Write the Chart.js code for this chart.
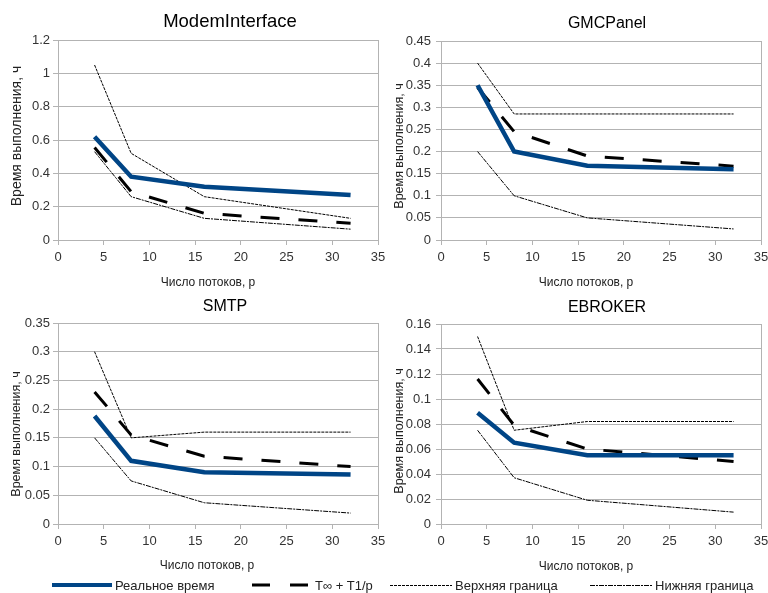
<!DOCTYPE html>
<html>
<head>
<meta charset="utf-8">
<script src="https://cdn.jsdelivr.net/npm/chart.js@4.4.1/dist/chart.umd.min.js"></script>
<style>
    html, body {margin: 0; padding: 0; background: #fff; overflow: hidden;}
    body {width: 768px; height: 593px; position: relative; font-family: "Liberation Sans", Arial, sans-serif;}
    canvas {position: absolute;}
    .lg {position: absolute; top: 577px; height: 16px; display: flex; align-items: center; font-size: 13px; color: #222; white-space: nowrap;}
    .lg svg {margin-right: 3px;}
</style>
</head>
<body>
<canvas id="c1" width="460" height="300" style="left:0;top:0"></canvas>
<canvas id="c2" width="446" height="300" style="left:384px;top:0"></canvas>
<canvas id="c3" width="450" height="286" style="left:0;top:290px"></canvas>
<canvas id="c4" width="446" height="286" style="left:384px;top:290px"></canvas>

<div class="lg" style="left:52px"><svg width="60" height="6"><line x1="0" y1="3" x2="60" y2="3" stroke="#004586" stroke-width="4"/></svg><span>Реальное время</span></div>
<div class="lg" style="left:252px"><svg width="60" height="6"><line x1="0" y1="3" x2="60" y2="3" stroke="#000" stroke-width="3" stroke-dasharray="18 20"/></svg><span>T∞ + T1/p</span></div>
<div class="lg" style="left:390px"><svg width="62" height="6"><line x1="0" y1="3.5" x2="62" y2="3.5" stroke="#000" stroke-width="1" stroke-dasharray="3 1"/></svg><span>Верхняя граница</span></div>
<div class="lg" style="left:590px"><svg width="62" height="6"><line x1="0" y1="3.5" x2="62" y2="3.5" stroke="#000" stroke-width="1" stroke-dasharray="5 1 2 1"/></svg><span>Нижняя граница</span></div>

<script>
// ---- data ----
const threads = [4, 8, 16, 32];
const seriesNames = ['Реальное время', 'T∞ + T1/p', 'Верхняя граница', 'Нижняя граница'];
const xMax = 35, xStep = 5;

const modemReal = [0.62, 0.38, 0.32, 0.27];
const modemModel = [0.555, 0.29, 0.16, 0.10];
const modemUpper = [1.05, 0.52, 0.26, 0.13];
const modemLower = [0.53, 0.26, 0.13, 0.065];

const gmcReal = [0.35, 0.20, 0.168, 0.16];
const gmcModel = [0.345, 0.245, 0.19, 0.167];
const gmcUpper = [0.40, 0.285, 0.285, 0.285];
const gmcLower = [0.20, 0.10, 0.05, 0.025];

const smtpReal = [0.188, 0.11, 0.09, 0.086];
const smtpModel = [0.23, 0.155, 0.118, 0.10];
const smtpUpper = [0.30, 0.15, 0.16, 0.16];
const smtpLower = [0.15, 0.075, 0.037, 0.019];

const ebrokerReal = [0.089, 0.065, 0.055, 0.055];
const ebrokerModel = [0.116, 0.079, 0.06, 0.05];
const ebrokerUpper = [0.15, 0.075, 0.082, 0.082];
const ebrokerLower = [0.075, 0.037, 0.019, 0.0095];

// ---- styling ----
const FONT = '"Liberation Sans", Arial, sans-serif';
Chart.defaults.font.family = FONT;
Chart.defaults.color = '#333';
const GRID = '#b3b3b3';

const lineStyles = [
    {borderColor: '#004586', borderWidth: 4.5, borderDash: []},
    {borderColor: '#000', borderWidth: 3, borderDash: [19, 19]},
    {borderColor: '#000', borderWidth: 1, borderDash: [3, 1]},
    {borderColor: '#000', borderWidth: 1, borderDash: [5, 1, 2, 1]},
];

// axis captions, placed like the office chart does (not centred on the plot)
const captions = {
    id: 'captions',
    afterDraw(chart, args, o) {
        const {ctx, chartArea: a} = chart;
        ctx.save();
        ctx.fillStyle = '#222';
        ctx.textAlign = 'center';
        ctx.textBaseline = 'middle';
        ctx.font = '12px ' + FONT;
        ctx.fillText('Число потоков, p', (a.left + a.right) / 2 + o.xdx, o.xy);
        ctx.font = o.ySize + 'px ' + FONT;
        ctx.translate(o.yx, o.yy);
        ctx.rotate(-Math.PI / 2);
        ctx.fillText('Время выполнения, ч', 0, 0);
        ctx.restore();
    }
};

const pts = vals => vals.map((v, i) => ({x: threads[i], y: v}));

function makeChart(id, o) {
    const series = [o.real, o.model, o.upper, o.lower];
    new Chart(document.getElementById(id), {
        type: 'scatter',
        plugins: [captions],
        data: {
            datasets: series.map((s, i) => ({
                label: seriesNames[i],
                data: pts(s),
                showLine: true,
                pointRadius: 0,
                fill: false,
                tension: 0,
                ...lineStyles[i],
            }))
        },
        options: {
            responsive: false,
            animation: false,
            events: [],
            layout: {padding: 0},
            plugins: {
                legend: {display: false},
                tooltip: {enabled: false},
                title: {
                    display: true, text: o.title, color: '#000',
                    font: {size: o.titleSize, weight: 'normal'},
                    padding: {top: o.titleTop, bottom: o.titleBottom}
                },
                captions: o.cap
            },
            scales: {
                x: {
                    type: 'linear', min: 0, max: xMax,
                    ticks: {stepSize: xStep, padding: 5, maxRotation: 0, font: {size: 13}},
                    grid: {drawOnChartArea: false, color: GRID, tickLength: 5},
                    border: {color: GRID},
                    afterFit: s => { s.height = o.xHeight; }
                },
                y: {
                    type: 'linear', min: 0, max: o.yMax,
                    ticks: {stepSize: o.yStep, padding: o.yTickPad, font: {size: 13}, callback: v => String(+v.toFixed(3))},
                    grid: {color: GRID, tickLength: 5},
                    border: {color: GRID},
                    afterFit: s => { s.width = o.yWidth; }
                },
                pad: {
                    type: 'linear', position: 'right', display: true,
                    grid: {display: false},
                    ticks: {display: false},
                    border: {color: GRID},
                    afterFit: s => { s.width = o.padWidth; }
                }
            }
        }
    });
}

makeChart('c1', {
    title: 'ModemInterface', titleSize: 18.5, titleTop: 11, titleBottom: 6.8,
    real: modemReal, model: modemModel, upper: modemUpper, lower: modemLower,
    yMax: 1.2, yStep: 0.2, yTickPad: 3, yWidth: 58,
    xHeight: 60, padWidth: 82,
    cap: {xdx: -10, xy: 283, ySize: 14, yx: 17, yy: 136}
});
makeChart('c2', {
    title: 'GMCPanel', titleSize: 16, titleTop: 14.2, titleBottom: 7.6,
    real: gmcReal, model: gmcModel, upper: gmcUpper, lower: gmcLower,
    yMax: 0.45, yStep: 0.05, yTickPad: 5, yWidth: 57,
    xHeight: 60, padWidth: 69,
    cap: {xdx: -15, xy: 283, ySize: 12.5, yx: 16, yy: 146}
});
makeChart('c3', {
    title: 'SMTP', titleSize: 16, titleTop: 7.4, titleBottom: 6.4,
    real: smtpReal, model: smtpModel, upper: smtpUpper, lower: smtpLower,
    yMax: 0.35, yStep: 0.05, yTickPad: 3, yWidth: 58,
    xHeight: 52, padWidth: 72,
    cap: {xdx: -11, xy: 276, ySize: 12.5, yx: 17, yy: 144}
});
makeChart('c4', {
    title: 'EBROKER', titleSize: 16, titleTop: 8.1, titleBottom: 6.7,
    real: ebrokerReal, model: ebrokerModel, upper: ebrokerUpper, lower: ebrokerLower,
    yMax: 0.16, yStep: 0.02, yTickPad: 5, yWidth: 57,
    xHeight: 52, padWidth: 69,
    cap: {xdx: -15, xy: 277, ySize: 12.5, yx: 16, yy: 141}
});
</script>
</body>
</html>
